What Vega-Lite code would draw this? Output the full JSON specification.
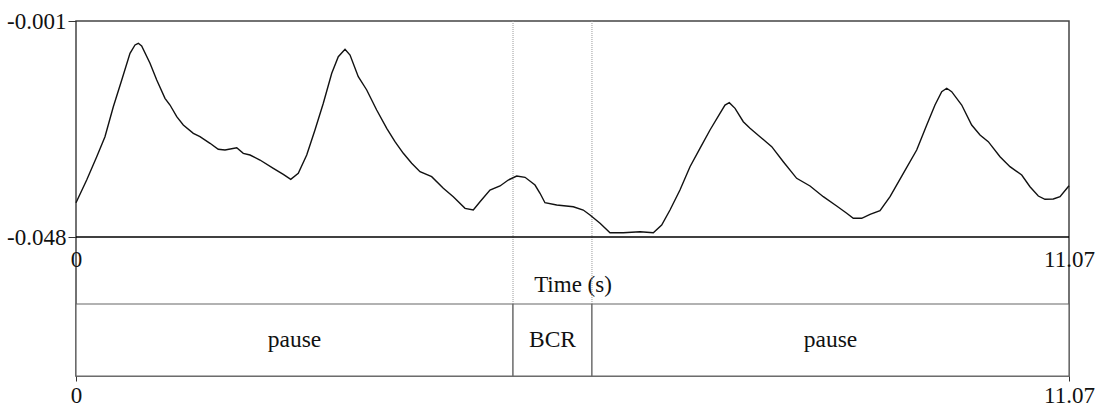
{
  "$schema": "https://vega.github.io/schema/vega-lite/v6.json",
  "width": 993,
  "height": 355,
  "autosize": {"type": "none"},
  "padding": {"left": 76, "top": 21, "right": 31, "bottom": 31},
  "background": "white",
  "config": {
    "view": {"stroke": "#444", "strokeWidth": 1.5},
    "font": "Liberation Serif",
    "axis": {
      "labelFont": "Liberation Serif",
      "labelFontSize": 23,
      "labelColor": "#111",
      "titleFont": "Liberation Serif",
      "titleFontSize": 23,
      "titleFontWeight": "normal",
      "titleColor": "#111",
      "grid": false,
      "labelFlush": false,
      "labelOverlap": false,
      "labelBound": false
    }
  },
  "datasets": {
    "trace": [
      {"t": 0, "v": -0.04054}, {"t": 0.119, "v": -0.0356}, {"t": 0.231, "v": -0.03053},
      {"t": 0.323, "v": -0.02618}, {"t": 0.416, "v": -0.01965}, {"t": 0.51, "v": -0.01384},
      {"t": 0.602, "v": -0.00803}, {"t": 0.658, "v": -0.00622}, {"t": 0.695, "v": -0.00585},
      {"t": 0.732, "v": -0.00644}, {"t": 0.825, "v": -0.0102}, {"t": 0.9, "v": -0.01384},
      {"t": 0.992, "v": -0.01782}, {"t": 1.048, "v": -0.01928}, {"t": 1.123, "v": -0.02182},
      {"t": 1.196, "v": -0.02363}, {"t": 1.308, "v": -0.02544}, {"t": 1.382, "v": -0.02618},
      {"t": 1.494, "v": -0.02761}, {"t": 1.586, "v": -0.02892}, {"t": 1.661, "v": -0.02907},
      {"t": 1.792, "v": -0.02857}, {"t": 1.865, "v": -0.02979}, {"t": 1.94, "v": -0.03016},
      {"t": 2.051, "v": -0.03125}, {"t": 2.2, "v": -0.03305}, {"t": 2.311, "v": -0.03436},
      {"t": 2.394, "v": -0.03545}, {"t": 2.478, "v": -0.03414}, {"t": 2.572, "v": -0.03016},
      {"t": 2.664, "v": -0.02472}, {"t": 2.757, "v": -0.01891}, {"t": 2.851, "v": -0.01238},
      {"t": 2.924, "v": -0.00877}, {"t": 2.999, "v": -0.00716}, {"t": 3.055, "v": -0.0084},
      {"t": 3.147, "v": -0.01312}, {"t": 3.241, "v": -0.01601}, {"t": 3.352, "v": -0.02037},
      {"t": 3.464, "v": -0.02435}, {"t": 3.556, "v": -0.02726}, {"t": 3.649, "v": -0.02979},
      {"t": 3.742, "v": -0.03196}, {"t": 3.835, "v": -0.03379}, {"t": 3.965, "v": -0.03488},
      {"t": 4.095, "v": -0.0374}, {"t": 4.206, "v": -0.03923}, {"t": 4.337, "v": -0.04176},
      {"t": 4.429, "v": -0.04213}, {"t": 4.504, "v": -0.04032}, {"t": 4.615, "v": -0.03777},
      {"t": 4.727, "v": -0.0369}, {"t": 4.819, "v": -0.0356}, {"t": 4.913, "v": -0.03473},
      {"t": 5.006, "v": -0.03501}, {"t": 5.117, "v": -0.03669}, {"t": 5.173, "v": -0.03849},
      {"t": 5.228, "v": -0.04054}, {"t": 5.359, "v": -0.04104}, {"t": 5.544, "v": -0.04141},
      {"t": 5.655, "v": -0.04213}, {"t": 5.73, "v": -0.04321}, {"t": 5.842, "v": -0.04502},
      {"t": 5.953, "v": -0.04706}, {"t": 6.101, "v": -0.04706}, {"t": 6.288, "v": -0.04685},
      {"t": 6.436, "v": -0.04706}, {"t": 6.529, "v": -0.04539}, {"t": 6.622, "v": -0.04213},
      {"t": 6.733, "v": -0.03777}, {"t": 6.845, "v": -0.0327}, {"t": 6.956, "v": -0.0287},
      {"t": 7.068, "v": -0.02472}, {"t": 7.179, "v": -0.02108}, {"t": 7.235, "v": -0.01928},
      {"t": 7.283, "v": -0.01878}, {"t": 7.347, "v": -0.02}, {"t": 7.439, "v": -0.02291},
      {"t": 7.514, "v": -0.02435}, {"t": 7.625, "v": -0.02618}, {"t": 7.756, "v": -0.02835},
      {"t": 7.885, "v": -0.03162}, {"t": 8.034, "v": -0.03523}, {"t": 8.183, "v": -0.0369},
      {"t": 8.331, "v": -0.03923}, {"t": 8.48, "v": -0.04125}, {"t": 8.592, "v": -0.04284},
      {"t": 8.665, "v": -0.04393}, {"t": 8.759, "v": -0.04393}, {"t": 8.852, "v": -0.04306},
      {"t": 8.963, "v": -0.04228}, {"t": 9.075, "v": -0.03923}, {"t": 9.223, "v": -0.03414},
      {"t": 9.372, "v": -0.02907}, {"t": 9.409, "v": -0.02726}, {"t": 9.484, "v": -0.02363},
      {"t": 9.576, "v": -0.01928}, {"t": 9.651, "v": -0.01638}, {"t": 9.707, "v": -0.01564},
      {"t": 9.762, "v": -0.01638}, {"t": 9.874, "v": -0.01928}, {"t": 9.985, "v": -0.02363},
      {"t": 10.078, "v": -0.02581}, {"t": 10.17, "v": -0.02726}, {"t": 10.301, "v": -0.03053},
      {"t": 10.412, "v": -0.0327}, {"t": 10.543, "v": -0.03451}, {"t": 10.635, "v": -0.03706},
      {"t": 10.728, "v": -0.03908}, {"t": 10.802, "v": -0.0398}, {"t": 10.895, "v": -0.03973},
      {"t": 10.97, "v": -0.03923}, {"t": 11.07, "v": -0.03684}
    ],
    "tiers": [
      {"label": "pause", "start": 0, "end": 4.872},
      {"label": "BCR", "start": 4.872, "end": 5.752},
      {"label": "pause", "start": 5.752, "end": 11.07}
    ]
  },
  "resolve": {"scale": {"x": "shared", "y": "shared"}, "axis": {"x": "independent"}},
  "layer": [
    {
      "data": {"name": "tiers"},
      "mark": {"type": "rect", "fill": "white", "stroke": "#666", "strokeWidth": 1.2},
      "encoding": {
        "x": {
          "field": "start", "type": "quantitative",
          "scale": {"domain": [0, 11.07], "nice": false, "zero": false},
          "axis": {
            "orient": "bottom", "values": [0, 11.07], "labelExpr": "'' + datum.value",
            "tickSize": 5, "tickColor": "#333", "domain": false, "labelPadding": 3, "title": null
          }
        },
        "x2": {"field": "end"},
        "y": {"datum": -0.062578},
        "y2": {"datum": -0.078244}
      }
    },
    {
      "data": {"name": "tiers"},
      "transform": [{"calculate": "(datum.start + datum.end) / 2", "as": "mid"}],
      "mark": {"type": "text", "font": "Liberation Serif", "fontSize": 23.5, "baseline": "middle", "align": "center", "color": "#111"},
      "encoding": {
        "x": {"field": "mid", "type": "quantitative", "axis": null},
        "y": {"datum": -0.07041},
        "text": {"field": "label"}
      }
    },
    {
      "data": {"name": "tiers"},
      "transform": [{"filter": "datum.start > 0"}],
      "mark": {"type": "rule", "stroke": "#9a9a9a", "strokeWidth": 1, "strokeDash": [1, 1]},
      "encoding": {
        "x": {"field": "start", "type": "quantitative", "axis": null},
        "y": {"datum": -0.001},
        "y2": {"datum": -0.062578}
      }
    },
    {
      "data": {"values": [{}]},
      "mark": {"type": "rule", "stroke": "#000", "strokeWidth": 1.5},
      "encoding": {"y": {"datum": -0.048}}
    },
    {
      "data": {"name": "trace"},
      "mark": {"type": "line", "stroke": "#111", "strokeWidth": 1.4},
      "encoding": {
        "x": {
          "field": "t", "type": "quantitative",
          "scale": {"domain": [0, 11.07], "nice": false, "zero": false},
          "axis": {
            "orient": "bottom", "offset": -139, "values": [0, 11.07], "labelExpr": "'' + datum.value",
            "ticks": false, "domain": false, "labelPadding": 11,
            "title": "Time (s)", "titlePadding": 2
          }
        },
        "y": {
          "field": "v", "type": "quantitative",
          "scale": {"domain": [-0.078244, -0.001], "nice": false, "zero": false},
          "axis": {
            "values": [-0.048, -0.001], "labelExpr": "'' + datum.value",
            "tickSize": 8, "tickColor": "#333", "domain": false, "labelPadding": 2, "title": null
          }
        }
      }
    }
  ]
}
